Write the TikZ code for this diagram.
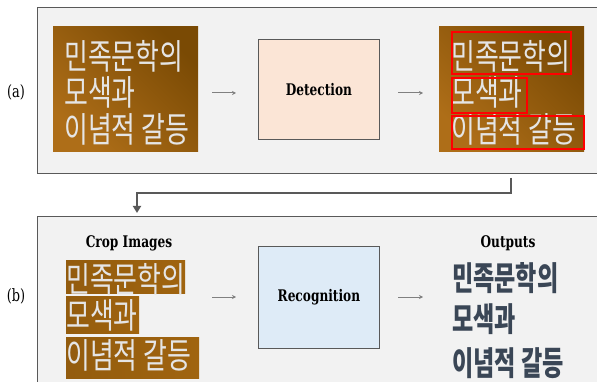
\documentclass[tikz,border=0pt]{standalone}
\usepackage{fontspec}
\newfontfamily\krimgfont[FakeStretch=0.74]{Noto Sans CJK KR}
\newfontfamily\kroutfont[FakeStretch=0.70]{Noto Sans CJK KR}
\newfontfamily\capfont[FakeStretch=0.76]{DejaVu Serif}
\usetikzlibrary{calc,arrows.meta}
\definecolor{panelbg}{HTML}{F2F2F2}
\definecolor{panelline}{HTML}{595959}
\definecolor{detfill}{HTML}{FBE5D6}
\definecolor{recfill}{HTML}{DEEBF7}
\definecolor{browndark}{HTML}{7A4A04}
\definecolor{brownlight}{HTML}{AE6E18}
\definecolor{browncrop}{HTML}{A0640F}
\definecolor{outtext}{HTML}{3A4656}
\definecolor{arrowgray}{HTML}{808080}
\definecolor{connGray}{HTML}{595959}
\tikzset{
  panel/.style={draw=panelline, line width=0.8pt, fill=panelbg, anchor=north west, inner sep=0pt},
  procbox/.style={draw=panelline, line width=0.8pt, anchor=north west, minimum width=121pt, inner sep=0pt, font=\capfont\bfseries\fontsize{16}{16}\selectfont},
  imgbox/.style={top color=browndark, bottom color=brownlight, shading angle=-45, anchor=north west, inner sep=0pt},
  cropbox/.style={left color=browncrop!92!black, right color=browncrop, anchor=north west, inner sep=0pt},
  imgtext/.style={font=\krimgfont\fontsize{35}{35}\selectfont, text=white!90!black, anchor=base west, inner sep=0pt},
  outtextstyle/.style={font=\kroutfont\bfseries\fontsize{33}{33}\selectfont, text=outtext, anchor=base west, inner sep=0pt},
  redbox/.style={draw=red, line width=1.8pt, anchor=north west, inner sep=0pt},
  flowarrow/.style={draw=arrowgray, line width=1pt, -{Stealth[length=4pt,width=4pt]}},
  conn/.style={draw=connGray, line width=2.5pt, -{Triangle[length=7pt,width=8pt]}},
  caption/.style={font=\capfont\bfseries\fontsize{16}{16}\selectfont},
  sublabel/.style={font=\capfont\fontsize{17}{17}\selectfont}
}
\begin{document}
\begin{tikzpicture}[x=1pt,y=-1pt]
\useasboundingbox (0,0) rectangle (597,382);
\fill[white] (0,0) rectangle (597,382);

% panels
\node[panel, minimum width=575pt, minimum height=166pt] (pa) at (37,7) {};
\node[panel, minimum width=575pt, minimum height=180pt] (pb) at (37,216) {};
\node[sublabel] (la) at (16,92) {(a)};
\node[sublabel] (lb) at (16,296) {(b)};

% (a) input image
\node[imgbox, minimum width=145pt, minimum height=125pt] (imgL) at (53,26) {};
\node[imgtext] (aL1) at (64,70) {민족문학의};
\node[imgtext] (aL2) at (64,106) {모색과};
\node[imgtext] (aL3) at (64,143) {이념적 갈등};

% detection
\node[procbox, fill=detfill, minimum height=100pt] (det) at (258,39) {Detection};

% (a) output image
\node[imgbox, minimum width=145pt, minimum height=125pt] (imgR) at (439,26) {};
\node[imgtext] (aR1) at (451,70) {민족문학의};
\node[imgtext] (aR2) at (451,106) {모색과};
\node[imgtext] (aR3) at (451,143) {이념적 갈등};
\node[redbox, minimum width=119pt, minimum height=42pt] (rb1) at (451,31) {};
\node[redbox, minimum width=75pt, minimum height=35pt] (rb2) at (451,77) {};
\node[redbox, minimum width=132pt, minimum height=33pt] (rb3) at (451,115) {};

\coordinate (aA1) at (212,93);
\coordinate (aA2) at (398,93);
\draw[flowarrow] (aA1) -- ++(24,0);
\draw[flowarrow] (aA2) -- ++(25,0);

% connector
\coordinate (cStart) at (511,178);
\coordinate (cEnd) at (137,213);
\draw[conn] (cStart) -- (511,193) -- (137,193) -- (cEnd);

% (b) crops
\node[caption] (cropcap) at (129,243) {Crop Images};
\node[cropbox, minimum width=119pt, minimum height=33pt] (c1) at (66,260) {};
\node[cropbox, minimum width=73pt, minimum height=37pt] (c2) at (66,296) {};
\node[cropbox, minimum width=133pt, minimum height=41pt] (c3) at (66,337) {};
\node[imgtext] (bL1) at (66,292) {민족문학의};
\node[imgtext] (bL2) at (66,328) {모색과};
\node[imgtext] (bL3) at (66,368) {이념적 갈등};

\node[procbox, fill=recfill, minimum height=102pt] (rec) at (258,246) {Recognition};

\node[caption] (outcap) at (508,243) {Outputs};
\node[outtextstyle] (o1) at (452,290) {민족문학의};
\node[outtextstyle] (o2) at (452,331) {모색과};
\node[outtextstyle] (o3) at (452,375) {이념적 갈등};

\coordinate (bA1) at (212,297);
\coordinate (bA2) at (398,297);
\draw[flowarrow] (bA1) -- ++(24,0);
\draw[flowarrow] (bA2) -- ++(25,0);
\end{tikzpicture}
\end{document}
